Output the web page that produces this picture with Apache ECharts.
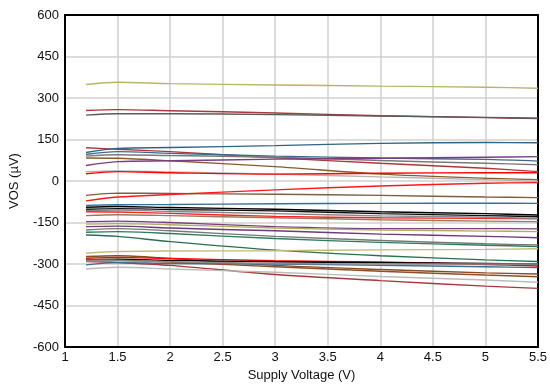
<!DOCTYPE html>
<html>
<head>
<meta charset="utf-8">
<script src="https://cdn.jsdelivr.net/npm/echarts@6/dist/echarts.min.js"></script>
<style>
  html, body { margin: 0; padding: 0; background: #fff; }
  #chart { width: 550px; height: 388px; }
</style>
</head>
<body>
<div id="chart"></div>
<script>
// supply voltage sample points (V)
const voltages = [1.2, 1.5, 2, 3, 4, 5, 5.5];

// offset voltage curves (uV), one per unit
const lineColors = [
  '#b8b46a', '#a8383c', '#5a5a5a', '#a83a3a', '#2f6485', '#3d6a8a', '#7a7a7a',
  '#8b5a2b', '#7a3f7f', '#b4b4b4', '#ff0000', '#7d6040', '#ff1a1a', '#3a6f95',
  '#000000', '#111111', '#ff2020', '#9a7a5a', '#888888', '#7a3f7f', '#b0ac60',
  '#6e3a78', '#777777', '#2e7d5a', '#2a7050', '#c0bc78', '#8b4a20', '#ff0000',
  '#000000', '#a8383c', '#3a6f95', '#bbbbbb', '#8b5028', '#8a8a8a'
];
const vosData = [
  [349, 357, 352, 347, 343, 339, 335],
  [255, 258, 254, 246, 236, 229, 226],
  [238, 243, 243, 240, 235, 230, 227],
  [120, 115, 106, 84, 64, 46, 34],
  [103, 118, 121, 128, 136, 139, 138],
  [96, 106, 100, 90, 83, 78, 72],
  [90, 95, 92, 86, 74, 64, 59],
  [83, 82, 73, 52, 25, 10, 5],
  [56, 70, 73, 79, 82, 86, 88],
  [34, 36, 33, 25, 15, 5, -2],
  [26, 34, 30, 25, 28, 30, 30],
  [-52, -44, -45, -48, -52, -58, -60],
  [-72, -58, -49, -32, -18, -8, -6],
  [-88, -86, -85, -82, -81, -80, -81],
  [-95, -92, -96, -102, -111, -118, -123],
  [-102, -100, -103, -108, -118, -125, -129],
  [-111, -112, -117, -128, -133, -135, -137],
  [-125, -122, -125, -133, -140, -145, -147],
  [-107, -105, -110, -118, -126, -131, -135],
  [-147, -145, -150, -165, -172, -172, -173],
  [-156, -154, -158, -170, -177, -181, -183],
  [-165, -163, -170, -180, -192, -200, -205],
  [-177, -172, -180, -200, -215, -227, -231],
  [-185, -183, -190, -208, -222, -232, -237],
  [-195, -200, -219, -250, -270, -285, -291],
  [-261, -255, -253, -252, -249, -247, -245],
  [-273, -270, -280, -305, -320, -332, -336],
  [-279, -276, -280, -288, -293, -302, -307],
  [-285, -283, -287, -292, -295, -298, -300],
  [-291, -295, -305, -338, -360, -380, -388],
  [-303, -295, -298, -300, -305, -310, -313],
  [-318, -312, -318, -330, -345, -358, -366],
  [-283, -285, -293, -310, -326, -340, -346],
  [-290, -288, -292, -298, -300, -300, -300]
];

const font = 'Liberation Sans, Arial, sans-serif';
let myChart = echarts.init(document.getElementById('chart'));

let series = vosData.map((vals, i) => {
  return {
    type: 'line',
    data: voltages.map((v, j) => [v, vals[j]]),
    showSymbol: false,
    smooth: 0.3,
    lineStyle: { color: lineColors[i], width: 1.4 },
    animation: false
  };
});

// plain black frame on top / right side
const frameAxis = {
  type: 'value',
  axisLine: { show: true, onZero: false, lineStyle: { color: '#000', width: 2 } },
  axisTick: { show: false },
  axisLabel: { show: false },
  splitLine: { show: false }
};

let option = {
  backgroundColor: '#fff',
  grid: {
    left: 64, right: 10, top: 15, bottom: 41
  },
  xAxis: [{
    type: 'value',
    min: 1, max: 5.5, interval: 0.5,
    name: 'Supply Voltage (V)',
    nameLocation: 'middle',
    nameGap: 22,
    nameTextStyle: { fontFamily: font, fontSize: 13, color: '#111' },
    axisLine: { onZero: false, lineStyle: { color: '#000', width: 2 } },
    axisTick: { show: false },
    axisLabel: { fontFamily: font, fontSize: 13, color: '#111', margin: 4 },
    splitLine: { lineStyle: { color: '#d0d0d0', width: 1.5 } }
  }, Object.assign({ position: 'top', min: 1, max: 5.5 }, frameAxis)],
  yAxis: [{
    type: 'value',
    min: -600, max: 600, interval: 150,
    name: 'VOS (µV)',
    nameLocation: 'middle',
    nameGap: 44,
    nameTextStyle: { fontFamily: font, fontSize: 13, color: '#111' },
    axisLine: { show: true, onZero: false, lineStyle: { color: '#000', width: 2 } },
    axisTick: { show: false },
    axisLabel: { fontFamily: font, fontSize: 13, color: '#111', margin: 6 },
    splitLine: { lineStyle: { color: '#d0d0d0', width: 1.5 } }
  }, Object.assign({ position: 'right', min: -600, max: 600 }, frameAxis)],
  series: series
};
myChart.setOption(option);
</script>
</body>
</html>
